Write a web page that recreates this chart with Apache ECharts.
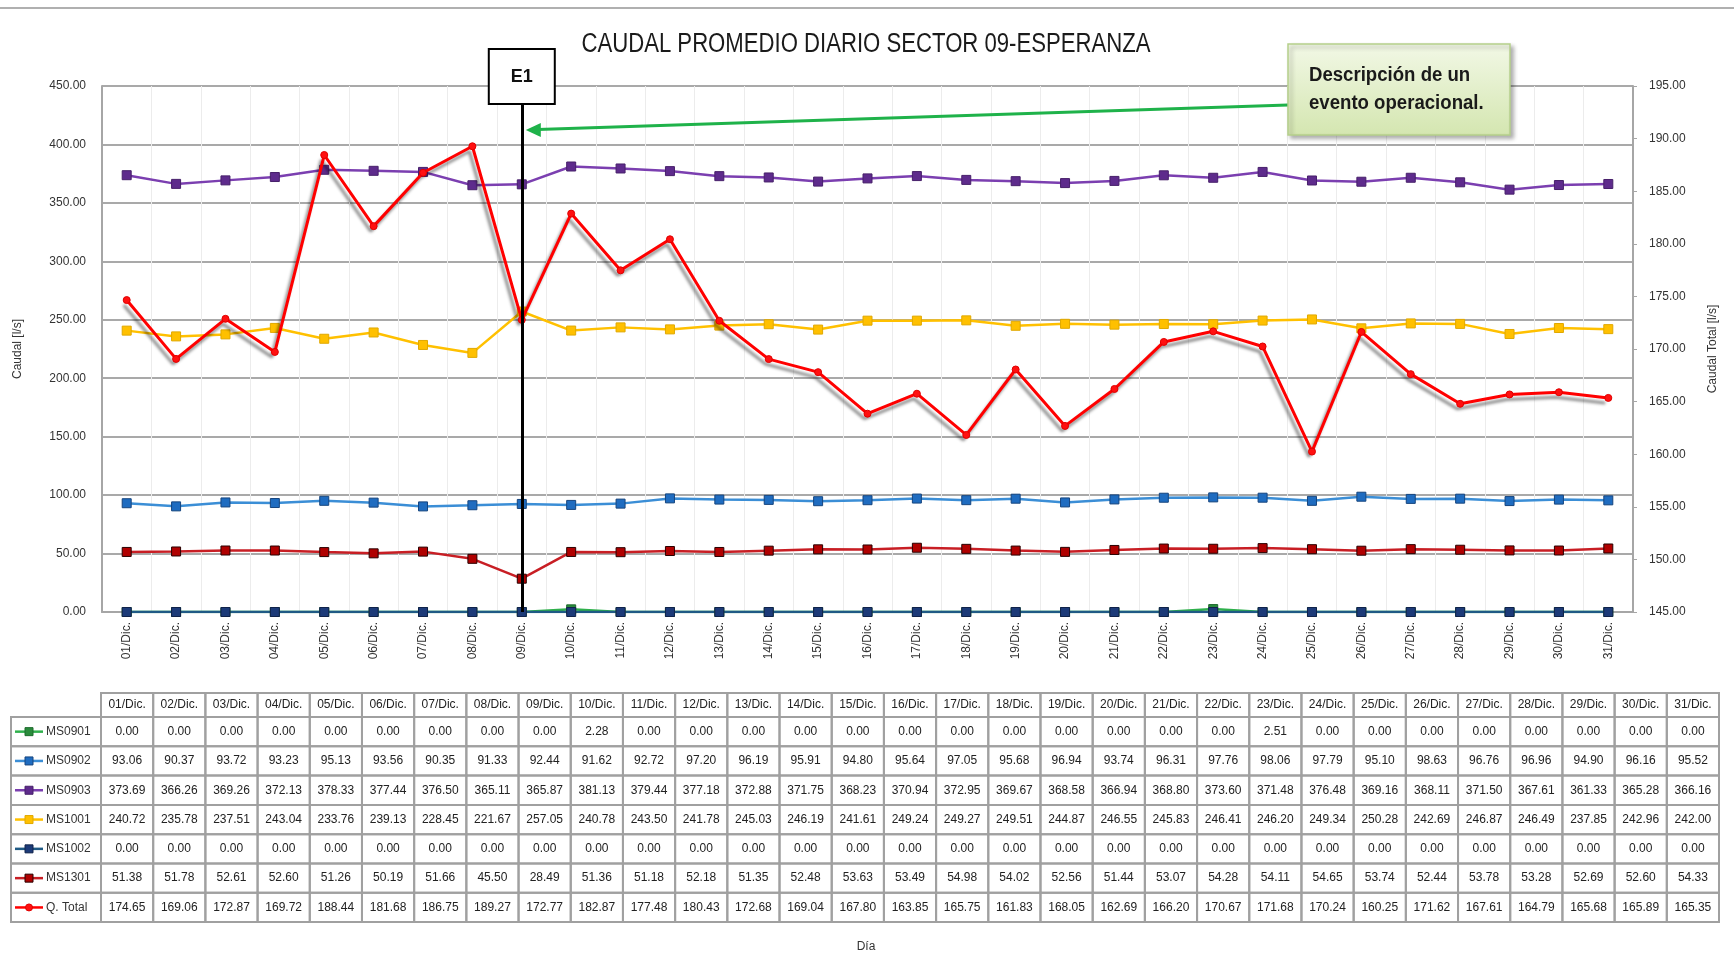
<!DOCTYPE html>
<html>
<head>
<meta charset="utf-8">
<script src="https://cdn.jsdelivr.net/npm/echarts@6/dist/echarts.min.js"></script>
<style>
  html, body { margin:0; padding:0; background:#fff; }
  #main { width:1734px; height:974px; }
</style>
</head>
<body>
<div id="main"></div>
<script>
// categories
var days = ['01/Dic.','02/Dic.','03/Dic.','04/Dic.','05/Dic.','06/Dic.','07/Dic.','08/Dic.','09/Dic.','10/Dic.',
  '11/Dic.','12/Dic.','13/Dic.','14/Dic.','15/Dic.','16/Dic.','17/Dic.','18/Dic.','19/Dic.','20/Dic.',
  '21/Dic.','22/Dic.','23/Dic.','24/Dic.','25/Dic.','26/Dic.','27/Dic.','28/Dic.','29/Dic.','30/Dic.','31/Dic.']

var ms0901 = [0,0,0,0,0,0,0,0,0,2.28, 0,0,0,0,0,0,0,0,0,0, 0,0,2.51,0,0,0,0,0,0,0,0]
var ms0902 = [93.06,90.37,93.72,93.23,95.13,93.56,90.35,91.33,92.44,91.62,
  92.72,97.20,96.19,95.91,94.80,95.64,97.05,95.68,96.94,93.74,
  96.31,97.76,98.06,97.79,95.10,98.63,96.76,96.96,94.90,96.16,95.52]
var ms0903 = [373.69,366.26,369.26,372.13,378.33,377.44,376.50,365.11,365.87,381.13,
  379.44,377.18,372.88,371.75,368.23,370.94,372.95,369.67,368.58,366.94,
  368.80,373.60,371.48,376.48,369.16,368.11,371.50,367.61,361.33,365.28,366.16]
var ms1001 = [240.72,235.78,237.51,243.04,233.76,239.13,228.45,221.67,257.05,240.78,
  243.50,241.78,245.03,246.19,241.61,249.24,249.27,249.51,244.87,246.55,
  245.83,246.41,246.20,249.34,250.28,242.69,246.87,246.49,237.85,242.96,242.00]
var ms1002 = [0,0,0,0,0,0,0,0,0,0, 0,0,0,0,0,0,0,0,0,0, 0,0,0,0,0,0,0,0,0,0,0]
var ms1301 = [51.38,51.78,52.61,52.60,51.26,50.19,51.66,45.50,28.49,51.36,
  51.18,52.18,51.35,52.48,53.63,53.49,54.98,54.02,52.56,51.44,
  53.07,54.28,54.11,54.65,53.74,52.44,53.78,53.28,52.69,52.60,54.33]
var qTotal = [174.65,169.06,172.87,169.72,188.44,181.68,186.75,189.27,172.77,182.87,
  177.48,180.43,172.68,169.04,167.80,163.85,165.75,161.83,168.05,162.69,
  166.20,170.67,171.68,170.24,160.25,171.62,167.61,164.79,165.68,165.89,165.35]

var chartTitle = 'CAUDAL PROMEDIO DIARIO SECTOR 09-ESPERANZA'
var eventDay = '09/Dic.'
var eventLabel = 'E1'
var eventText = ['Descripción de un', 'evento operacional.']

// series look: name, data, line color, marker fill, marker border, symbol, axis
var seriesDefs = [
  ['MS0901', ms0901, '#2fb04c', '#2a8b3c', '#1d6a2c', 'rect', 0],
  ['MS0902', ms0902, '#3b8ed6', '#1f6cc0', '#16457e', 'rect', 0],
  ['MS0903', ms0903, '#7b3fb0', '#5e2b8c', '#47206a', 'rect', 0],
  ['MS1001', ms1001, '#ffc000', '#ffc000', '#e0a800', 'rect', 0],
  ['MS1002', ms1002, '#1f5a85', '#1c3a78', '#10224a', 'rect', 0],
  ['MS1301', ms1301, '#c81e24', '#b00000', '#2a0000', 'rect', 0],
  ['Q. Total', qTotal, '#ff0000', '#ff1010', '#e00000', 'circle', 1]
]

var font = '"Liberation Sans", Arial, sans-serif'

var series = seriesDefs.map(function (d) {
  var isQ = d[6] === 1
  var s = {
    name: d[0],
    type: 'line',
    data: d[1],
    yAxisIndex: d[6],
    symbol: d[5],
    symbolSize: isQ ? 7 : 9,
    lineStyle: { color: d[2], width: isQ ? 3 : 2.5 },
    itemStyle: { color: d[3], borderColor: d[4], borderWidth: 1 },
    z: isQ ? 5 : 3
  }
  if (isQ) {
    s.lineStyle.shadowColor = 'rgba(0,0,0,0.45)'
    s.lineStyle.shadowBlur = 3
    s.lineStyle.shadowOffsetX = -3
    s.lineStyle.shadowOffsetY = 5
    s.markLine = {
      silent: true,
      symbol: 'none',
      label: { show: false },
      lineStyle: { color: '#000', width: 3, type: 'solid' },
      data: [{ xAxis: eventDay }],
      z: 10
    }
  }
  return s
})

var chart = echarts.init(document.getElementById('main'))
chart.setOption({
  backgroundColor: '#fff',
  animation: false,
  grid: { left: 102, right: 101, top: 86, bottom: 362 },
  xAxis: {
    type: 'category',
    data: days,
    boundaryGap: true,
    axisLine: { lineStyle: { color: '#a6a6a6', width: 2 } },
    axisTick: { show: false },
    splitLine: { show: true, lineStyle: { color: '#ececec', width: 1 } },
    axisLabel: { rotate: 90, margin: 10, fontFamily: font, fontSize: 12, color: '#333', interval: 0 }
  },
  yAxis: [{
    type: 'value',
    min: 0, max: 450, interval: 50,
    name: 'Caudal [l/s]',
    nameLocation: 'middle',
    nameRotate: 90,
    nameGap: 78,
    nameTextStyle: { fontFamily: font, fontSize: 12, color: '#333' },
    axisLine: { show: true, lineStyle: { color: '#a6a6a6', width: 2 } },
    axisTick: { show: false },
    splitLine: { lineStyle: { color: '#a9a9a9', width: 2 } },
    axisLabel: { margin: 16, fontFamily: font, fontSize: 12, color: '#333',
      formatter: function (v) { return v.toFixed(2) } }
  }, {
    type: 'value',
    min: 145, max: 195, interval: 5,
    name: 'Caudal Total [l/s]',
    nameLocation: 'middle',
    nameRotate: 90,
    nameGap: 74,
    nameTextStyle: { fontFamily: font, fontSize: 12, color: '#333' },
    axisLine: { show: true, lineStyle: { color: '#a6a6a6', width: 2 } },
    axisTick: { show: true, length: 4, lineStyle: { color: '#a6a6a6' } },
    splitLine: { show: false },
    axisLabel: { margin: 16, fontFamily: font, fontSize: 12, color: '#333',
      formatter: function (v) { return v.toFixed(2) } }
  }],
  series: series
})

// annotation + data table
var ex = chart.convertToPixel({ xAxisIndex: 0 }, eventDay)
var g = []

// top border line
g.push({ type: 'line', shape: { x1: 0, y1: 8, x2: 1734, y2: 8 }, style: { stroke: '#b0b0b0', lineWidth: 2 } })

// title (condensed like the original)
g.push({ type: 'text', x: 866, y: 45, scaleX: 0.82,
  style: { text: chartTitle, fill: '#1a1a1a', font: '27px ' + font, align: 'center', verticalAlign: 'middle' } })

// event box
g.push({ type: 'rect', shape: { x: ex - 33, y: 49, width: 66, height: 55 },
  style: { fill: '#fff', stroke: '#000', lineWidth: 2 }, z: 20 })
g.push({ type: 'text', x: ex, y: 77, z: 21,
  style: { text: eventLabel, fill: '#111', font: 'bold 18px ' + font, align: 'center', verticalAlign: 'middle' } })

// callout box
var cbX = 1288, cbY = 44, cbW = 222, cbH = 91
g.push({ type: 'rect', shape: { x: cbX, y: cbY, width: cbW, height: cbH },
  style: {
    fill: new echarts.graphic.LinearGradient(0, 0, 0, 1, [
      { offset: 0, color: '#f2f8e6' }, { offset: 1, color: '#d4e6b0' }]),
    stroke: '#b5d08a', lineWidth: 1.5,
    shadowColor: 'rgba(0,0,0,0.3)', shadowBlur: 4, shadowOffsetX: 3, shadowOffsetY: 3
  }, z: 20 })
g.push({ type: 'text', x: cbX + 21, y: cbY + 31, z: 21, scaleX: 0.93,
  style: { text: eventText[0], fill: '#1a1a1a', font: 'bold 20px ' + font, verticalAlign: 'middle' } })
g.push({ type: 'text', x: cbX + 21, y: cbY + 59, z: 21, scaleX: 0.93,
  style: { text: eventText[1], fill: '#1a1a1a', font: 'bold 20px ' + font, verticalAlign: 'middle' } })

// green arrow from callout to event line
var ax1 = cbX, ay1 = 105, ax2 = ex + 4, ay2 = 130
g.push({ type: 'line', shape: { x1: ax1, y1: ay1, x2: ax2 + 12, y2: ay2 - 0.4 }, style: { stroke: '#1fb24a', lineWidth: 3 }, z: 19 })
g.push({ type: 'polygon', shape: { points: [[ax2, ay2], [ax2 + 15, ay2 - 7], [ax2 + 15, ay2 + 7]] }, style: { fill: '#1fb24a' }, z: 19 })

// data table
var tX0 = 11, tX1 = 101, tX2 = 1719
var colW = (tX2 - tX1) / days.length
var hdrY = 693, hdrH = 24, rowH = 29.3
var cellFont = '12px ' + font
var border = { fill: 'none', stroke: '#a0a0a0', lineWidth: 2 }

days.forEach(function (d, i) {
  g.push({ type: 'rect', shape: { x: tX1 + i * colW, y: hdrY, width: colW, height: hdrH }, style: border })
  g.push({ type: 'text', x: tX1 + (i + 0.5) * colW, y: hdrY + hdrH / 2,
    style: { text: d, font: cellFont, fill: '#222', align: 'center', verticalAlign: 'middle' } })
})

seriesDefs.forEach(function (s, r) {
  var y = hdrY + hdrH + r * rowH
  var cy = y + rowH / 2
  g.push({ type: 'rect', shape: { x: tX0, y: y, width: tX1 - tX0, height: rowH }, style: border })
  g.push({ type: 'line', shape: { x1: 15, y1: cy, x2: 43, y2: cy }, style: { stroke: s[2], lineWidth: 2.5 } })
  if (s[5] === 'circle') {
    g.push({ type: 'circle', shape: { cx: 29, cy: cy, r: 3.5 }, style: { fill: s[3], stroke: s[4] } })
  } else {
    g.push({ type: 'rect', shape: { x: 25, y: cy - 4, width: 8, height: 8 }, style: { fill: s[3], stroke: s[4] } })
  }
  g.push({ type: 'text', x: 46, y: cy,
    style: { text: s[0], font: cellFont, fill: '#333', verticalAlign: 'middle' } })
  s[1].forEach(function (v, i) {
    g.push({ type: 'rect', shape: { x: tX1 + i * colW, y: y, width: colW, height: rowH }, style: border })
    g.push({ type: 'text', x: tX1 + (i + 0.5) * colW, y: cy,
      style: { text: v.toFixed(2), font: cellFont, fill: '#222', align: 'center', verticalAlign: 'middle' } })
  })
})

g.push({ type: 'text', x: 866, y: 947,
  style: { text: 'Día', font: '12px ' + font, fill: '#333', align: 'center', verticalAlign: 'middle' } })

chart.setOption({ graphic: g })
</script>
</body>
</html>
